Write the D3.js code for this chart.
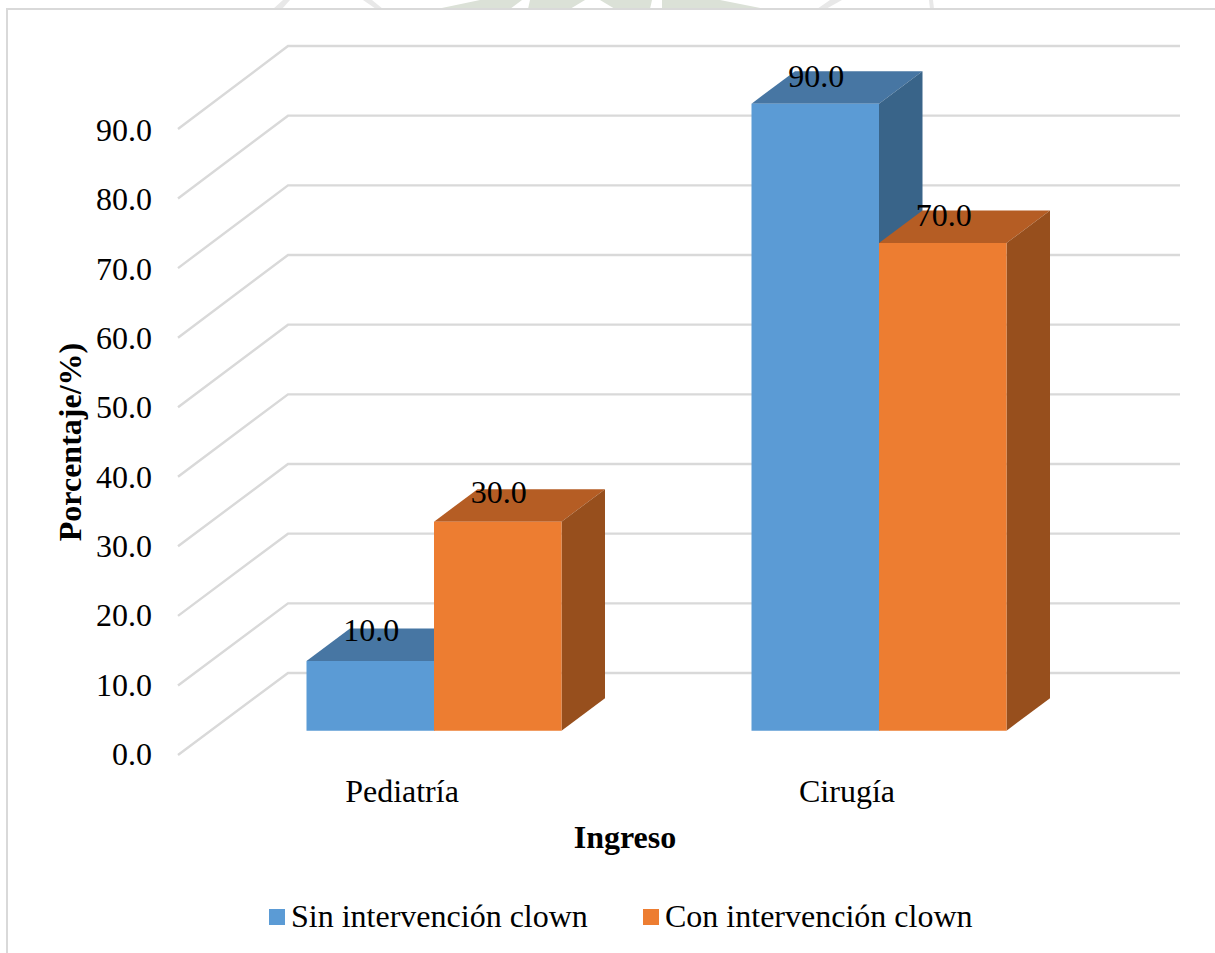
<!DOCTYPE html>
<html><head><meta charset="utf-8">
<style>html,body{margin:0;padding:0;background:#fff}svg{display:block}text{font-family:"Liberation Serif",serif;fill:#000}</style>
<script src="https://cdn.jsdelivr.net/npm/d3@7"></script></head><body>
<svg id="c" width="1215" height="953"></svg>
<script>
const categories=["Pediatría","Cirugía"];
const seriesNames=["Sin intervención clown","Con intervención clown"];
const sinValues=[10,90];
const conValues=[30,70];
const tickValues=[0,10,20,30,40,50,60,70,80,90];
const colors=[{front:"#5b9bd5",top:"#4776a3",side:"#396489"},{front:"#ed7d31",top:"#b55d24",side:"#974f1d"}];
const fontSize=32;

const svg=d3.select("#c");
// faint watermark remnants above the chart frame
const wm=svg.append("g").attr("fill","#dbe1d7");
wm.append("path").attr("d","M437,9 L480,0 L720,0 L765,9 Z");
wm.append("path").attr("d","M510,9 L522,0 L530,0 L528,9 Z M570,9 L585,0 L600,0 L615,9 Z M650,9 L652,0 L662,0 L662,9 Z").attr("fill","#fff");
wm.append("path").attr("d","M273,9 L283,0 L290,0 L282,9 Z").attr("fill","#e8e8e8");
wm.append("path").attr("d","M363,0 L372,0 L383,9 L376,9 Z").attr("fill","#e8e8e8");
wm.append("path").attr("d","M817,9 L830,0 L842,0 L826,9 Z").attr("fill","#e8e8e8");
wm.append("path").attr("d","M929,0 L933,0 L934,9 L930,9 Z").attr("fill","#e8e8e8");
svg.append("rect").attr("x",7).attr("y",9).attr("width",1300).attr("height",1000).attr("fill","#fff").attr("stroke","#d9d9d9").attr("stroke-width",2);

// back wall scale
const yBack=d3.scaleLinear().domain([0,90]).range([673,46]);
const yLeft=d3.scaleLinear().domain([0,90]).range([755,129]);
const yTickLabel=d3.scaleLinear().domain([0,90]).range([765,141]);
const wallX=288,wallDx=110,gridRight=1180;
const grid=svg.append("g").attr("fill","none").attr("stroke","#d9d9d9").attr("stroke-width",2.4);
tickValues.forEach(t=>{
  grid.append("path").attr("d",d3.line()([[wallX-wallDx,yLeft(t)],[wallX,yBack(t)],[gridRight,yBack(t)]]));
});
svg.append("g").selectAll("text").data(tickValues).join("text")
  .attr("x",152).attr("y",t=>yTickLabel(t)).attr("text-anchor","end")
  .attr("font-size",fontSize).text(t=>t.toFixed(1));

// bars
const x0=d3.scalePoint().domain(categories).range([434,879]);
const barW=127.5,depthX=43.5,depthY=32.5;
const yFront=v=>yBack(v)+57.7;
const yDataLabel=d3.scaleLinear().domain([10,90]).range([641,87]);
const bars=svg.append("g");
const drawBar=(cat,si,v)=>{
  const c=colors[si];
  const xl=x0(cat)-barW+si*barW;
  const xr=xl+barW,yt=yFront(v),yb=yFront(0);
  const poly=(pts,fill)=>bars.append("polygon").attr("points",pts.map(p=>p.join(",")).join(" ")).attr("fill",fill);
  poly([[xl,yt],[xl+depthX,yt-depthY],[xr+depthX,yt-depthY],[xr,yt]],c.top);
  poly([[xr,yt],[xr+depthX,yt-depthY],[xr+depthX,yb-depthY],[xr,yb]],c.side);
  poly([[xl,yt],[xr,yt],[xr,yb],[xl,yb]],c.front);
};
categories.forEach((cat,i)=>{drawBar(cat,0,sinValues[i]);drawBar(cat,1,conValues[i]);});

// data labels
categories.forEach((cat,i)=>{
  [sinValues[i],conValues[i]].forEach((v,si)=>{
    const xl=x0(cat)-barW+si*barW;
    svg.append("text").attr("x",xl+barW/2+1).attr("y",yDataLabel(v)).attr("text-anchor","middle").attr("font-size",fontSize).text(v.toFixed(1));
  });
});

// category labels
svg.append("g").selectAll("text").data(categories).join("text")
 .attr("x",d=>x0(d)-32).attr("y",802).attr("text-anchor","middle").attr("font-size",fontSize).text(d=>d);

svg.append("text").attr("x",625).attr("y",848).attr("text-anchor","middle").attr("font-size",fontSize).attr("font-weight","bold").text("Ingreso");
svg.append("text").attr("transform","translate(81,442) rotate(-90)").attr("text-anchor","middle").attr("font-size",fontSize).attr("font-weight","bold").text("Porcentaje/%)");

// legend
const legX=[269,643],txtX=[291,665];
seriesNames.forEach((n,i)=>{
  svg.append("rect").attr("x",legX[i]).attr("y",909).attr("width",16).attr("height",16).attr("fill",colors[i].front);
  svg.append("text").attr("x",txtX[i]).attr("y",927).attr("font-size",fontSize).text(n);
});
</script></body></html>
